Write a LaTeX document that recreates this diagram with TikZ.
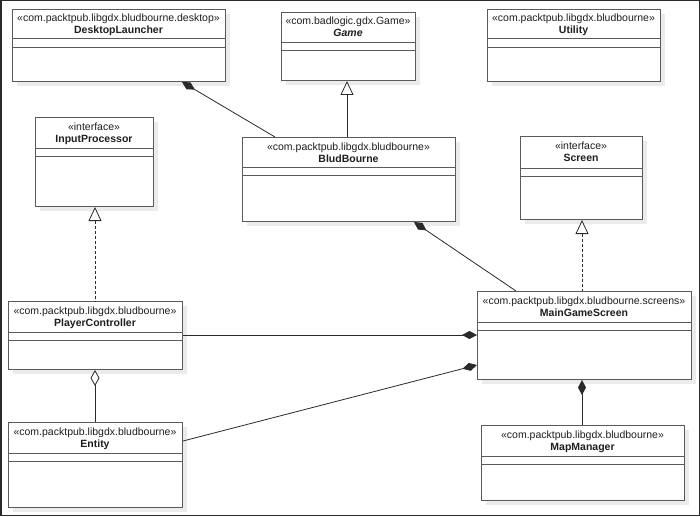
\documentclass[tikz,border=0pt]{standalone}
\usepackage{fontspec}
\setmainfont{Liberation Sans}
\usetikzlibrary{arrows.meta}
\definecolor{boxc}{HTML}{5A5A5A}
\definecolor{shadc}{HTML}{EBEBEB}
\definecolor{linec}{HTML}{2A2A2A}
\definecolor{txtc}{HTML}{1E1E1E}
\tikzset{
  clsbox/.style={draw=boxc, line width=1pt, fill=white, inner sep=0pt, anchor=north west},
  clsline/.style={draw=boxc, line width=1pt},
  stereotxt/.style={font=\fontsize{10.5}{12}\selectfont, text=txtc, anchor=base, inner sep=0pt},
  titletxt/.style={font=\fontsize{10.5}{12}\selectfont\bfseries, text=txtc, anchor=base, inner sep=0pt},
  conn/.style={draw=linec, line width=0.8pt},
  compos/.style={conn, {Diamond[length=15pt,width=8pt,fill=linec]}-},
  aggr/.style={conn, {Diamond[open,length=16pt,width=9pt,fill=white]}-},
  inherit/.style={conn, {Triangle[open,length=14pt,width=13pt,fill=white]}-},
  realize/.style={inherit, dash pattern=on 3pt off 2pt},
}
% name, x1, y1, x2, y2, line1, line2, stereotype, title
\newcommand\umlclass[9]{%
  \fill[shadc] (#2+5,#3+5) rectangle (#4+5,#5+5);
  \node[clsbox, minimum width={#4-#2}, minimum height={#5-#3}] (#1) at (#2,#3) {};
  \draw[clsline] (#2,#6) -- (#4,#6) (#2,#7) -- (#4,#7);
  \node[stereotxt] (#1-st) at ({(#2+#4)/2},#3+13) {#8};
  \node[titletxt] (#1-ti) at ({(#2+#4)/2},#3+25) {#9};
}
\begin{document}
\begin{tikzpicture}[x=1pt,y=-1pt]
\useasboundingbox (0,0) rectangle (700,516);
\fill[white] (0,0) rectangle (700,516);
\draw[draw=linec, line width=1.5pt] (0.75,0.75) rectangle (699.25,515.25);

\umlclass{dl}{12}{9}{225}{81}{39}{48}{«com.packtpub.libgdx.bludbourne.desktop»}{DesktopLauncher}
\umlclass{game}{281}{12}{415}{80}{43}{51}{«com.badlogic.gdx.Game»}{\itshape Game}
\umlclass{util}{487}{9}{660}{81}{39}{48}{«com.packtpub.libgdx.bludbourne»}{Utility}
\umlclass{bb}{242}{137}{455}{221}{167}{175}{«com.packtpub.libgdx.bludbourne»}{BludBourne}
\umlclass{scr}{520}{136}{642}{219}{168}{176}{«interface»}{Screen}
\umlclass{ip}{35}{117}{153}{206}{148}{156}{«interface»}{InputProcessor}
\umlclass{pc}{8}{301}{182}{369}{332}{340}{«com.packtpub.libgdx.bludbourne»}{PlayerController}
\umlclass{mgs}{477}{291}{691}{379}{322}{330}{«com.packtpub.libgdx.bludbourne.screens»}{MainGameScreen}
\umlclass{ent}{8}{422}{182}{507}{453}{461}{«com.packtpub.libgdx.bludbourne»}{Entity}
\umlclass{mm}{481}{425}{684}{500}{456}{464}{«com.packtpub.libgdx.bludbourne»}{MapManager}

% connectors
\draw[compos] ([xshift=170pt]dl.south west) -- ([xshift=33pt]bb.north west);
\draw[inherit] ([xshift=66pt]game.south west) -- ([xshift=105pt]bb.north west);
\draw[realize] ([xshift=60pt]ip.south west) -- ([xshift=87pt]pc.north west);
\draw[compos] ([xshift=172pt]bb.south west) -- ([xshift=39pt]mgs.north west);
\draw[realize] ([xshift=62pt]scr.south west) -- ([xshift=105pt]mgs.north west);
\draw[compos] ([yshift=-44pt]mgs.north west) -- ([yshift=-34pt]pc.north east);
\draw[compos] ([yshift=-74pt]mgs.north west) -- ([yshift=-19pt]ent.north east);
\draw[aggr] ([xshift=87pt]pc.south west) -- ([xshift=87pt]ent.north west);
\draw[compos] ([xshift=105pt]mgs.south west) -- ([xshift=101pt]mm.north west);
\end{tikzpicture}
\end{document}
